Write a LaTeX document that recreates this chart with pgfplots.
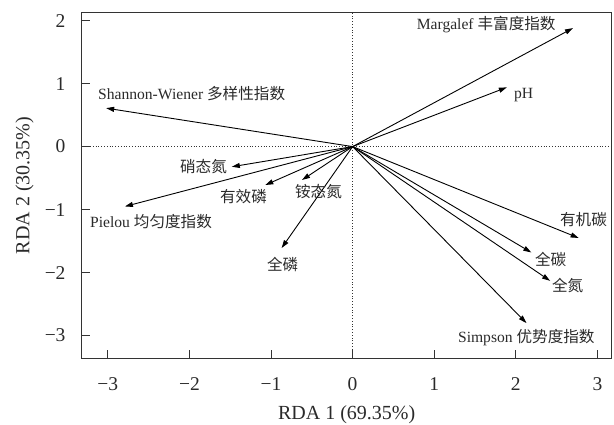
\documentclass[border=0pt]{standalone}
\usepackage{pgfplots}
\pgfplotsset{compat=1.18}
\usepackage{fontspec}
\setmainfont{Liberation Serif}
\newfontfamily\cjk{Noto Sans CJK SC}
\usetikzlibrary{arrows.meta}
\definecolor{axgray}{HTML}{333333}
\definecolor{txt}{HTML}{2A2A2A}
\begin{document}
\begin{tikzpicture}
\useasboundingbox (-81.7pt,-66pt) rectangle (532.3pt,358pt);
\begin{axis}[
  at={(0,0)}, anchor=south west,
  scale only axis, width=530pt, height=345pt,
  xmin=-3.32, xmax=3.175, ymin=-3.355, ymax=2.12,
  axis line style={axgray, line width=1pt},
  tick align=inside, tick pos=left,
  major tick length=8pt,
  tick style={axgray, line width=1pt},
  xtick={-3,-2,-1,0,1,2,3},
  xticklabels={−3,−2,−1,0,1,2,3},
  ytick={-3,-2,-1,0,1,2},
  yticklabels={−3,−2,−1,0,1,2},
  xticklabel style={font=\fontsize{19.5}{22}\selectfont, txt, inner sep=0pt, anchor=north, yshift=-19pt},
  yticklabel style={font=\fontsize{19.5}{22}\selectfont, txt, inner sep=0pt, anchor=east, xshift=-16pt},
  xlabel={RDA 1 (69.35\%)},
  ylabel={RDA 2 (30.35\%)},
  xlabel style={font=\fontsize{20}{24}\selectfont, txt, inner sep=0pt, at={(axis description cs:0.5,-0.1768)}, anchor=base},
  ylabel style={font=\fontsize{20}{24}\selectfont, txt, inner sep=0pt, at={(axis description cs:-0.0989,0.5)}, anchor=base},
  clip=false,
]
\addplot[axgray, line width=0.8pt, dotted] coordinates {(-3.32,0) (3.175,0)};
\addplot[axgray, line width=0.8pt, dotted] coordinates {(0,-3.355) (0,2.12)};

\pgfplotsset{arr/.style={black, line width=0.9pt, -{Triangle[length=8pt,width=5pt]}}}
\addplot[arr] coordinates {(0,0) (-3.02,0.61)};
\addplot[arr] coordinates {(0,0) (2.70,1.88)};
\addplot[arr] coordinates {(0,0) (1.89,0.94)};
\addplot[arr] coordinates {(0,0) (-1.48,-0.32)};
\addplot[arr] coordinates {(0,0) (-1.07,-0.61)};
\addplot[arr] coordinates {(0,0) (-0.62,-0.53)};
\addplot[arr] coordinates {(0,0) (-2.79,-0.95)};
\addplot[arr] coordinates {(0,0) (-0.87,-1.61)};
\addplot[arr] coordinates {(0,0) (2.77,-1.45)};
\addplot[arr] coordinates {(0,0) (2.19,-1.68)};
\addplot[arr] coordinates {(0,0) (2.42,-2.13)};
\addplot[arr] coordinates {(0,0) (2.13,-2.80)};

\tikzset{lab/.style={anchor=west, inner sep=0pt, txt, font=\fontsize{15.6}{18}\selectfont}}
\node[lab] at (axis cs:-3.121,0.837) {Shannon-Wiener {\cjk 多样性指数}};
\node[lab] at (axis cs:0.784,1.932) {Margalef {\cjk 丰富度指数}};
\node[lab] at (axis cs:1.977,0.821) {pH};
\node[lab] at (axis cs:-2.116,-0.322) {\cjk 硝态氮};
\node[lab] at (axis cs:-1.626,-0.798) {\cjk 有效磷};
\node[lab] at (axis cs:-0.707,-0.711) {\cjk 铵态氮};
\node[lab] at (axis cs:-3.219,-1.190) {Pielou {\cjk 均匀度指数}};
\node[lab] at (axis cs:-1.050,-1.878) {\cjk 全磷};
\node[lab] at (axis cs:2.540,-1.163) {\cjk 有机碳};
\node[lab] at (axis cs:2.234,-1.798) {\cjk 全碳};
\node[lab] at (axis cs:2.442,-2.211) {\cjk 全氮};
\node[lab] at (axis cs:1.290,-3.032) {Simpson {\cjk 优势度指数}};
\end{axis}
\end{tikzpicture}
\end{document}
